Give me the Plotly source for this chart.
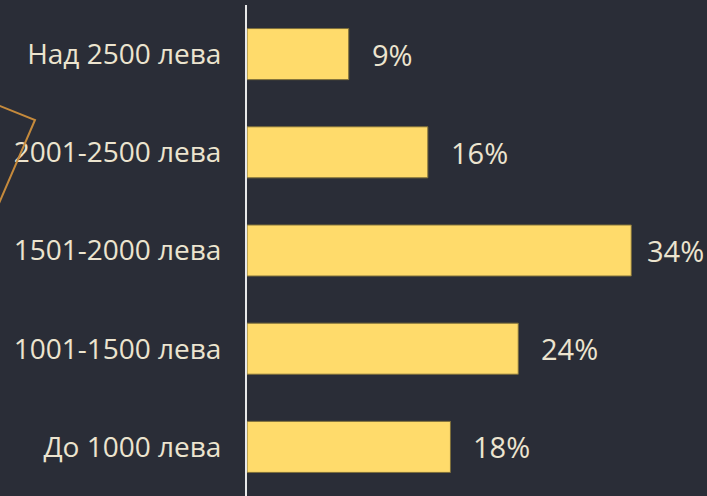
import plotly.graph_objects as go

categories = ["До 1000 лева", "1001-1500 лева", "1501-2000 лева", "2001-2500 лева", "Над 2500 лева"]
values = [18, 24, 34, 16, 9]
labels = ["18%", "24%", "34%", "16%", "9%"]

BG = "#2a2d37"
TXT = "#ece4cf"
BAR = "#ffdb6b"
FONT = "Open Sans"

fig = go.Figure()
fig.add_trace(go.Bar(
    y=categories, x=values, orientation="h",
    marker=dict(color=BAR, line=dict(color="#7d6e3a", width=1)),
    hoverinfo="skip",
))
for c, v, t in zip(categories, values, labels):
    shift = 21 if v < 30 else 14
    fig.add_annotation(x=v, y=c, text=t, showarrow=False, xanchor="left",
                       xshift=shift, font=dict(color=TXT, size=29, family=FONT))

fig.add_shape(type="path", xref="paper", yref="paper",
              path="M -0.6457,0.835 L -0.4609,0.7658 L -0.6457,0.365",
              line=dict(color="#c58a3c", width=2))

fig.update_layout(
    width=707, height=496,
    margin=dict(l=247, r=0, t=5, b=0, autoexpand=False),
    paper_bgcolor=BG, plot_bgcolor=BG,
    bargap=0.48,
    showlegend=False,
    font=dict(family=FONT, color=TXT, size=28),
    xaxis=dict(range=[0, 40.7], showgrid=False, zeroline=False, showticklabels=False,
               showline=False, automargin=False),
    yaxis=dict(showgrid=False, zeroline=False, showline=True, linecolor="#e8e8e8", linewidth=2,
               ticks="outside", ticklen=18, tickcolor="rgba(0,0,0,0)", automargin=False,
               tickfont=dict(size=28, color=TXT, family=FONT)),
)
fig.write_html("out.html", config={"displayModeBar": False},
               post_script="document.body.style.margin='0';document.body.style.background='#2a2d37';")
